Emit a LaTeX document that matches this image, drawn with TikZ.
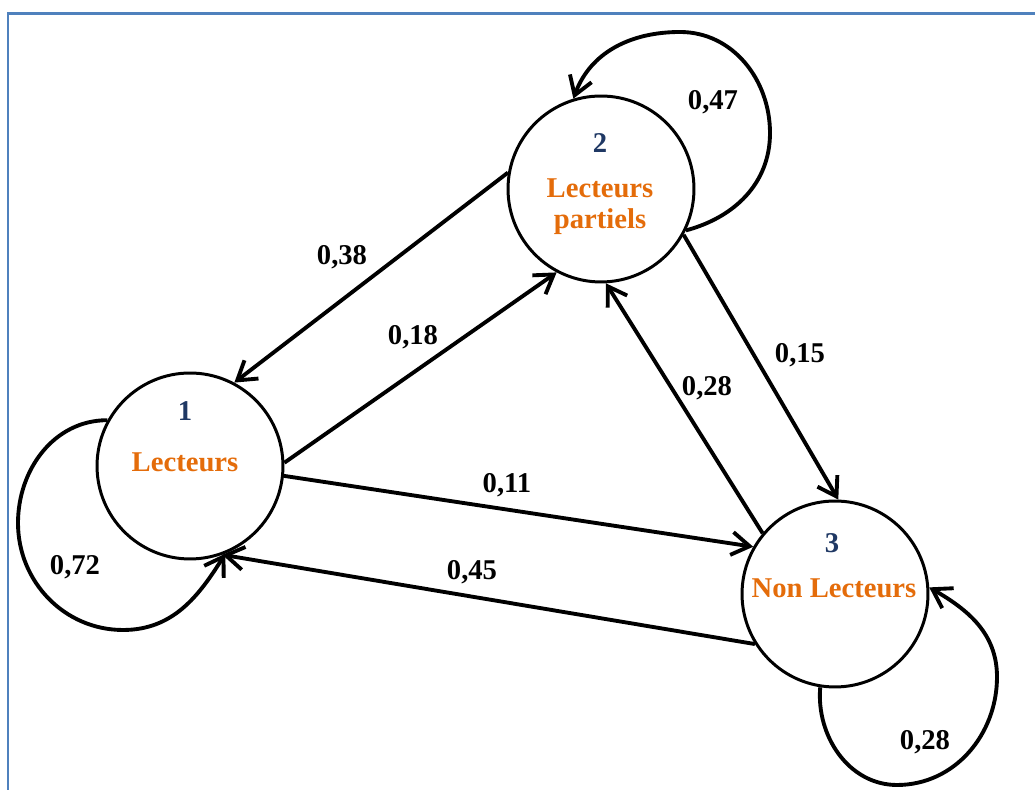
\documentclass[tikz,border=0pt]{standalone}
\usepackage{fontspec}
\setmainfont{Liberation Serif}
\usetikzlibrary{arrows.meta}

\definecolor{cadrebleu}{HTML}{4F81BD}
\definecolor{numbleu}{HTML}{1F3864}
\definecolor{etatorange}{HTML}{E46C0A}

\tikzset{
	etat/.style={draw, circle, line width=1.7pt, minimum size=3.72cm, inner sep=0pt},
	num/.style={font=\bfseries\fontsize{16.3}{17.6}\selectfont, text=numbleu},
	nom/.style={font=\bfseries\fontsize{16.3}{17.6}\selectfont, text=etatorange, align=center},
	proba/.style={font=\bfseries\fontsize{16.3}{17.6}\selectfont},
	fleche/.style={line width=2.2pt, -{Straight Barb[length=3.6mm,width=4.6mm]}}
}

\begin{document}
\begin{tikzpicture}[x=0.02cm, y=0.02cm]
		%%%%% START %%%%%
		\useasboundingbox (0,0) rectangle (1035,790);
		\draw[cadrebleu, line width=1.7pt] (8,0) |- (1035,776);
		
		\node[etat] (n1) at (190,324) {};
		\node[etat] (n2) at (601,601) {};
		\node[etat] (n3) at (835,196) {};
		
		\path (n1) ++(-5,55) node[num] (t1) {1};
		\path (n1) ++(-5,4) node[nom] (e1) {Lecteurs};
		\path (n2) ++(-1,46) node[num] (t2) {2};
		\path (n2) ++(-1,-18) node[nom] (e2) {Lecteurs\\partiels};
		\path (n3) ++(-3,51) node[num] (t3) {3};
		\path (n3) ++(-1,6) node[nom] (e3) {Non Lecteurs};
		
		\draw[fleche] (n2.170) -- (n1.62);
		\draw[fleche] (n1.2) -- (n2.242);
		\draw[fleche] (n1.-6) -- (n3.150);
		\draw[fleche] (n3.212) -- (n1.-70);
		\draw[fleche] (n3.140) -- (n2.-87);
		\draw[fleche] (n2.-29) -- (n3.88);
		
		% boucles
		\draw[fleche] (n1.151) to[out=180,in=90] (18,267) to[out=-90,in=180] (123,160) to[out=0,in=-122] (n1.-68);
		\draw[fleche] (n2.-26) to[out=15,in=-90] (770,657) to[out=90,in=0] (680,758) to[out=180,in=70] (n2.107);
		\draw[fleche] (n3.261) to[out=-95,in=180] (897,5) to[out=0,in=-90] (997,113) to[out=90,in=-30] (n3.4);
		
		\node[proba] (p21) at (342,533) {0,38};
		\node[proba] (p12) at (413,453) {0,18};
		\node[proba] (p13) at (507,305) {0,11};
		\node[proba] (p31) at (472,218) {0,45};
		\node[proba] (p32) at (707,402) {0,28};
		\node[proba] (p23) at (800,435) {0,15};
		\node[proba] (p11) at (75,223) {0,72};
		\node[proba] (p22) at (713,688) {0,47};
		\node[proba] (p33) at (925,48) {0,28};
		%%%%% END %%%%%
\end{tikzpicture}
\end{document}
